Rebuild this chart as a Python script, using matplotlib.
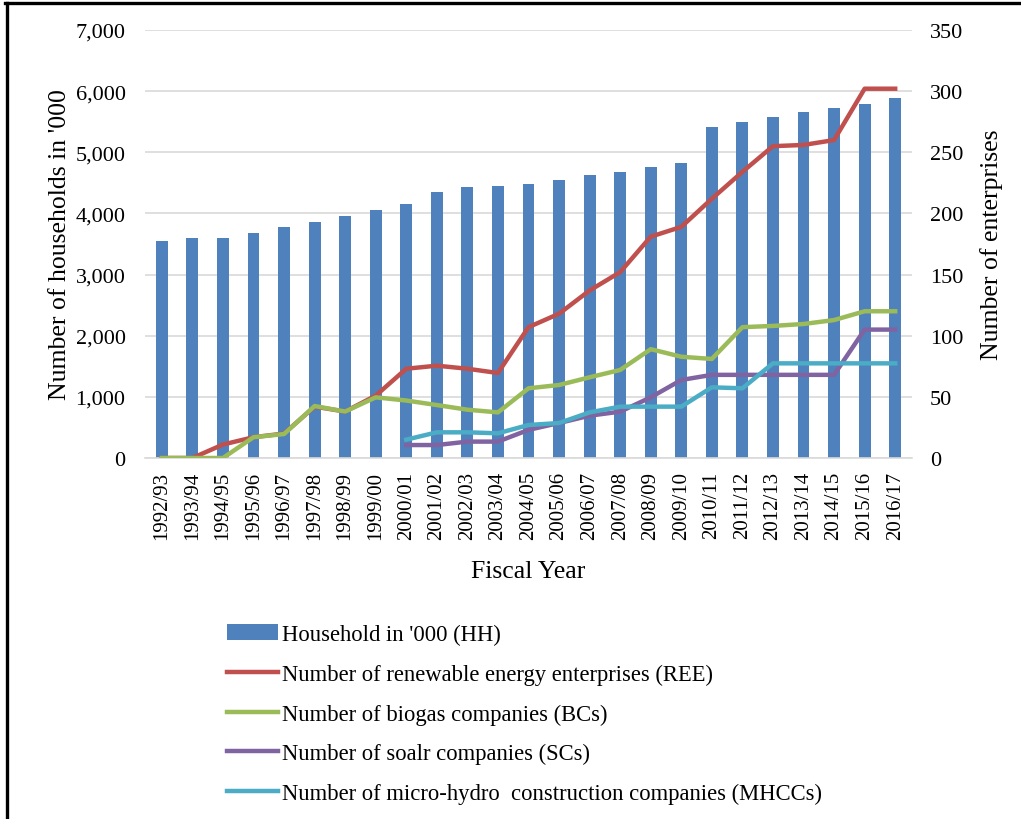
import numpy as np
import matplotlib
matplotlib.use("Agg")
import matplotlib.pyplot as plt
from matplotlib.lines import Line2D

years = ["1992/93", "1993/94", "1994/95", "1995/96", "1996/97", "1997/98", "1998/99",
         "1999/00", "2000/01", "2001/02", "2002/03", "2003/04", "2004/05", "2005/06",
         "2006/07", "2007/08", "2008/09", "2009/10", "2010/11", "2011/12", "2012/13",
         "2013/14", "2014/15", "2015/16", "2016/17"]
households = [3545, 3598, 3598, 3678, 3777, 3858, 3956, 4052, 4155, 4350, 4426, 4448,
              4486, 4550, 4630, 4685, 4752, 4830, 5420, 5500, 5580, 5655, 5730, 5790, 5880]
ree = [0, 0, 11, 17, 20, 42, 38, 51, 73, 75.5, 73, 69.5, 107, 118, 137, 152, 181, 189,
       212, 234, 255, 256, 260, 302, 302]
bcs = [0, 0, 0, 17, 19.6, 42.5, 38, 49.6, 47, 43.3, 39.5, 37.3, 57, 59.7, 66, 72, 89,
       82.8, 81, 107, 108, 109.6, 112.8, 120, 120]
nan = np.nan
scs = [nan, nan, nan, nan, nan, nan, nan, nan, 10.6, 10.6, 13.4, 13.4, 23, 28.6, 34.6,
       37.9, 49.6, 63.8, 68, 68, 68, 68, 68, 105, 105]
mhccs = [nan, nan, nan, nan, nan, nan, nan, nan, 15, 21, 21, 20.2, 27, 28.6, 37.3, 42,
         42, 42, 57.8, 57, 77.4, 77.4, 77.4, 77.4, 77.4]

left_ticks = [0, 1000, 2000, 3000, 4000, 5000, 6000, 7000]
right_ticks = [0, 50, 100, 150, 200, 250, 300, 350]

plt.rcParams['font.family'] = ['Liberation Serif', 'DejaVu Serif']

W, H = 1021, 820
fig = plt.figure(figsize=(W/100, H/100), dpi=100)
ax = fig.add_axes([145/W, 1-459/H, (912-145)/W, (459-31)/H])
ax2 = ax.twinx()

x = np.arange(len(years))
bars = ax.bar(x, households, width=0.39, color='#4f81bd', label="Household in '000 (HH)", zorder=2)
ax.set_ylim(0, 7000)
ax.set_xlim(-0.55, len(years) - 0.45)
ax.set_yticks(left_ticks)
ax.set_yticklabels([f"{v:,}" for v in left_ticks], fontsize=16)
ax.set_xticks(x)
ax.set_xticklabels(years, rotation=90, fontsize=15)
ax.grid(axis='y', color='#d9d9d9', linewidth=1.2, zorder=0)
ax.set_axisbelow(True)
ax.tick_params(axis='y', length=0, pad=14)
ax.tick_params(axis='x', length=0, pad=9)
for s in ['top', 'right', 'left']:
    ax.spines[s].set_visible(False)
ax.spines['bottom'].set_color('#d9d9d9')
ax.spines['bottom'].set_linewidth(1.2)
ax.set_ylabel("Number of households in '000", fontsize=18.5, labelpad=3)
ax.set_xlabel("Fiscal Year", fontsize=18.5, labelpad=15)

lw = 3.2
l1, = ax2.plot(x, ree, color='#c0504d', lw=lw, label="Number of renewable energy enterprises (REE)")
l2, = ax2.plot(x, bcs, color='#9bbb59', lw=lw, label="Number of biogas companies (BCs)")
l3, = ax2.plot(x, scs, color='#8064a2', lw=lw, label="Number of soalr companies (SCs)")
l4, = ax2.plot(x, mhccs, color='#4bacc6', lw=lw, label="Number of micro-hydro  construction companies (MHCCs)")
ax2.set_ylim(0, 350)
ax2.set_yticks(right_ticks)
ax2.set_yticklabels([str(v) for v in right_ticks], fontsize=16)
ax2.tick_params(length=0, pad=13)
for s in ['top', 'right', 'left', 'bottom']:
    ax2.spines[s].set_visible(False)
ax2.set_ylabel("Number of enterprises", fontsize=18.5, labelpad=12)

fig.legend(handles=[bars, l1, l2, l3, l4], loc='upper left',
           bbox_to_anchor=(227/W, 1-625/H), frameon=False, fontsize=16.3,
           handlelength=2.25, handletextpad=0.18, labelspacing=0.82, borderaxespad=0,
           borderpad=0)

# figure border (top and left edges only)
fig.add_artist(Line2D([6.5/W, 6.5/W], [0, 1-4/H], transform=fig.transFigure, color='black', lw=2.4))
fig.add_artist(Line2D([5/W, 1], [1-4/H, 1-4/H], transform=fig.transFigure, color='black', lw=2.4))

fig.savefig("out.png", dpi=100)
